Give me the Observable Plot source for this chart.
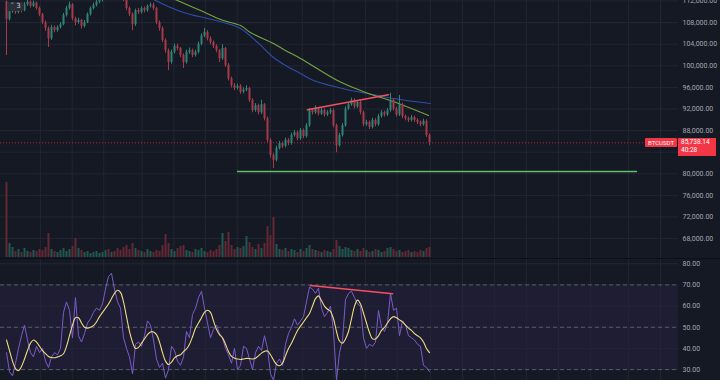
<!DOCTYPE html>
<html><head><meta charset="utf-8">
<script src="https://cdn.jsdelivr.net/npm/d3@7"></script>
<script src="https://cdn.jsdelivr.net/npm/@observablehq/plot@0.6"></script>
<style>
html,body{margin:0;padding:0;background:#151924;}
#wrap{position:relative;width:720px;height:380px;overflow:hidden;background:#151924;font-family:Roboto,"Liberation Sans",sans-serif;}
#wrap svg{display:block;overflow:hidden;}
.abs{position:absolute;}
</style></head><body><div id="wrap"></div>
<script>
// ---- data (prices in thousands of USDT, one candle per index) ----
const symbol = "BTCUSDT";
const countdown = "40:28";
const opens = [111.8,108.6,110.0,110.6,109.9,111.0,110.2,111.3,111.8,111.0, 111.6,110.6,109.5,108.0,106.9,105.0,107.1,106.5,107.1,107.6, 109.3,110.6,111.3,108.7,108.0,108.4,107.3,108.0,109.5,110.6, 111.2,111.8,112.1,112.8,113.5,113.2,114.0,113.6,113.0,112.8, 112.3,110.6,109.5,107.6,110.2,109.9,110.6,110.2,111.0,111.2, 110.6,108.0,106.9,104.7,102.8,100.6,102.5,103.6,103.2,101.9, 100.6,102.5,102.8,101.9,102.5,104.0,105.5,106.2,105.0,104.3, 103.6,102.8,101.3,103.2,100.1,97.6,96.3,95.8,96.2,95.1, 95.5,95.8,93.6,91.7,92.6,91.3,92.8,90.2,86.2,83.4, 82.5,84.7,85.6,85.1,86.2,85.6,87.1,87.6,86.5,88.0, 86.9,88.9,91.7,91.3,92.0,91.1,91.7,90.9,91.3,91.7, 88.9,85.2,87.1,88.9,92.0,92.8,93.6,92.4,93.2,91.3, 89.1,89.5,88.6,89.9,89.1,90.6,91.3,90.9,91.7,93.6, 92.0,90.9,92.8,90.6,90.2,89.9,90.4,89.9,89.5,89.1, 89.7,87.1];
const highs = [112.0,110.4,111.0,110.9,111.4,111.2,111.7,112.2,112.0,112.0, 111.8,110.9,109.7,108.3,107.2,107.5,107.4,107.4,108.0,109.7, 111.0,111.8,111.5,109.0,108.8,108.6,108.4,109.8,110.9,111.6, 112.2,112.6,113.2,113.9,113.8,114.4,114.3,113.9,113.3,113.1, 112.5,110.9,109.8,110.5,110.6,110.9,110.9,111.3,111.6,111.6, 110.8,108.3,107.2,105.0,103.1,102.9,104.0,104.0,103.4,102.2, 102.9,103.3,103.1,102.9,104.4,105.9,106.9,106.5,105.4,104.6, 103.9,103.0,103.9,103.4,100.4,97.9,96.7,96.6,96.5,95.9, 96.3,96.0,93.9,93.0,92.9,93.6,93.0,90.5,86.5,83.8, 85.1,86.0,85.9,86.6,86.5,87.5,88.0,87.9,88.4,88.3, 89.3,92.1,92.1,92.6,92.3,92.1,92.0,91.7,92.1,92.0, 89.2,87.5,89.3,92.4,93.2,94.0,93.9,93.6,93.5,91.6, 89.9,89.8,90.3,90.2,91.0,91.7,91.6,92.1,94.9,93.9, 92.3,94.5,93.1,90.9,90.5,90.8,90.7,90.2,89.8,90.1, 90.0,87.4];
const lows = [101.9,108.3,109.7,109.5,109.6,109.8,110.0,111.0,110.7,110.8, 110.3,109.1,107.6,106.4,103.4,104.7,106.1,106.2,106.8,107.4, 109.0,110.3,108.3,107.4,107.7,106.8,107.0,107.8,109.2,110.3, 110.9,111.5,111.8,112.5,112.9,112.9,113.2,112.6,112.4,111.9, 110.2,109.1,106.5,107.3,109.5,109.6,109.8,109.9,110.7,110.2, 107.6,106.4,104.3,102.3,99.1,100.3,102.2,102.8,101.5,99.5, 100.3,102.1,101.5,101.6,102.2,103.7,105.2,104.6,103.9,103.2, 102.4,100.6,101.0,99.7,97.2,95.9,95.4,95.5,94.7,94.8, 95.2,93.2,91.3,91.4,90.9,91.0,89.8,85.8,82.9,81.0, 82.2,84.4,84.7,84.8,85.2,85.3,86.8,86.1,86.2,86.5, 86.6,88.6,90.9,91.0,90.7,90.8,90.5,90.6,91.0,88.5, 83.9,84.9,86.8,88.6,91.7,92.5,92.0,92.1,90.9,88.7, 88.8,88.2,88.3,88.7,88.8,90.3,90.5,90.6,91.4,91.6, 90.5,90.6,90.2,89.8,89.5,89.6,89.5,89.1,88.7,88.8, 86.7,85.2];
const closes = [108.6,110.0,110.6,109.9,111.0,110.2,111.3,111.8,111.0,111.6, 110.6,109.5,108.0,106.9,105.0,107.1,106.5,107.1,107.6,109.3, 110.6,111.3,108.7,108.0,108.4,107.3,108.0,109.5,110.6,111.2, 111.8,112.1,112.8,113.5,113.2,114.0,113.6,113.0,112.8,112.3, 110.6,109.5,107.6,110.2,109.9,110.6,110.2,111.0,111.2,110.6, 108.0,106.9,104.7,102.8,100.6,102.5,103.6,103.2,101.9,100.6, 102.5,102.8,101.9,102.5,104.0,105.5,106.2,105.0,104.3,103.6, 102.8,101.3,103.2,100.1,97.6,96.3,95.8,96.2,95.1,95.5, 95.8,93.6,91.7,92.6,91.3,92.8,90.2,86.2,83.4,82.5, 84.7,85.6,85.1,86.2,85.6,87.1,87.6,86.5,88.0,86.9, 88.9,91.7,91.3,92.0,91.1,91.7,90.9,91.3,91.7,88.9, 85.2,87.1,88.9,92.0,92.8,93.6,92.4,93.2,91.3,89.1, 89.5,88.6,89.9,89.1,90.6,91.3,90.9,91.7,93.6,92.0, 90.9,92.8,90.6,90.2,89.9,90.4,89.9,89.5,89.1,89.7, 87.1,85.73814];
const volumes = [75,14,10,6,8,5,9,6,5,7, 6,8,7,10,24,8,6,5,7,9, 6,8,11,19,9,7,5,6,4,5, 6,4,5,7,8,5,6,9,7,10, 12,8,14,9,7,6,5,8,6,5, 7,6,12,23,14,8,6,9,11,12, 7,6,5,8,7,9,6,5,7,6, 8,12,24,16,25,12,8,10,9,11, 21,15,10,8,13,9,14,31,22,40, 13,8,7,9,6,8,7,5,8,6, 9,12,8,7,6,5,7,6,5,8, 17,11,8,10,9,7,6,8,6,9, 7,5,6,8,7,5,6,9,10,8, 6,7,5,6,7,5,6,5,7,6, 9,10];
const rsi = [38,29,27,33,40,46,51,44,38,36, 41,38,40,34,31,36,38,37,40,57, 62,58,45,64,46,43,47,52,54,57, 59,58,61,68,74,75.5,68,62,59,45, 40,36,28,42,43,41,46,53,51,44, 35,31,33,26,30,41,39,34,32,36, 48,45,56,59,64,67,59,52,45,49, 51,47,45,40,37,33,40,30,32,41, 40,35,30,38,41,39,46,40,28,25, 33,35,32,42,47,50,54,51,53,55, 62,69,68,66,68.5,59,55,57,60,48, 25,38,44,63,66,67,64,61,60,45, 40,42,41,43,58,50,48,52,66,58, 59,46,53,51,46,45,44,42,41,32, 31,29];
const rsiMa = [44,39,34,30.5,29.5,31.5,35,39,42.5,44, 43,41,39,37.5,36.2,35.7,35.6,36,36.5,37.5, 41,46,51,54.5,54.5,52,50,49.6,50,50.8, 52.5,55,57,59,61,63.5,66,67.5,66.5,62, 55,48,43,40,40.5,42.5,44.5,46.5,47.8,47.8, 46.5,43,38,34,32.4,33.5,35.5,36.5,37,38.5, 39.8,42,45.5,49.5,52,54.5,57,58,57,53, 49,46.5,45,42,38.5,36.2,35.4,35,34.8,35, 35.3,35.2,35,35.4,36.5,37.8,38.6,38.8,37,34.5, 32.5,31.8,33,36.5,40,42.5,45.5,48.5,50.5,52.5, 54.5,56.5,60,63.5,64.8,62.5,60,58.5,57.5,54, 48,43.5,42.5,44.5,48,54,60,62.8,61,56.6, 52,47.5,44.5,44.5,46,48.5,50,52,54,55, 54.5,53.5,52.5,51,49.6,48.5,47,46,45,43, 40,38];
// moving averages: [candle index, price]
const maBlue = [[48,112.65],[49.7,112.09],[59,109.87],[67,108.76],[72.3,108.02],[78,106.91],[83.7,104.32],[89,101.54],[93,100.06],[98,98.57],[102.3,97.28],[108,96.35],[114.7,95.43],[120.3,94.87],[129,93.94],[141.3,93.02]];
const maGreen = [[54.7,112.65],[57,112.09],[64.7,110.24],[72.3,108.39],[78,107.46],[81.3,106.17],[89,104.13],[93,102.83],[98,101.35],[110.3,97.28],[118,95.43],[124.7,94.13],[128,93.57],[140.7,90.80]];
// drawn lines
const priceTrend = [[100.3,91.85],[127.3,94.63]];
const support = [[77,80.43],[210,80.43]];
const rsiDiv = [[101.3,69.7],[128.7,65.8]];
// ticks (the 84,000 label is hidden behind the price tag in the original)
const priceTicks = [68,72,76,80,84,88,92,96,100,104,108,112];
const priceLabelTicks = [68,72,76,80,88,92,96,100,104,108,112];
const rsiTicks = [30,40,50,60,70,80];
const rsiLevels = {lower:30, middle:50, upper:70};
const gridX = [11.3,21.9,32.4,45.2,55.8,66.3,76.9,88,98.6,109.1,119.7,130.2,141.3,152,162.7,173.3,184,194.7,207.3,218];

// ---- styling ----
const GRID="#222633", UP="#2f8575", DN="#a93a4a", VUP="#22574f", VDN="#632835", RED="#f23645";
const font = "Roboto, 'Liberation Sans', sans-serif";
const style = {background:"transparent", color:"#a3a6af", fontSize:"7px", fontFamily:font};
const X = {domain:[-2,224], axis:null};
const bars = closes.map((c,i)=>({i, o:opens[i], h:highs[i], l:lows[i], c, v:volumes[i], up:c>=opens[i]}));
const lastClose = closes[closes.length-1];
const fmtPrice = d => d3.format(",.2f")(d*1000);

const wrap = document.getElementById("wrap");
function place(el, top){ el.classList.add("abs"); el.style.left="0px"; el.style.top=top+"px"; wrap.appendChild(el); return el; }

const pricePlot = Plot.plot({
  width:720, height:258, marginLeft:0, marginRight:42, marginTop:0, marginBottom:0,
  x:X, y:{domain:[64.31,112.09], axis:null}, style,
  marks:[
    Plot.ruleX(gridX,{stroke:GRID}),
    Plot.ruleY(priceTicks,{stroke:GRID}),
    Plot.line(maBlue,{x:d=>d[0], y:d=>d[1], stroke:"#2f4ea8", strokeWidth:1.1, curve:"catmull-rom", clip:true}),
    Plot.line(maGreen,{x:d=>d[0], y:d=>d[1], stroke:"#76a540", strokeWidth:1.1, curve:"catmull-rom", clip:true}),
    Plot.ruleY([lastClose],{stroke:RED, strokeOpacity:0.7, strokeDasharray:"1,2"}),
    Plot.ruleX(bars,{x:"i", y1:"l", y2:"h", stroke:d=>d.up?UP:DN, clip:true}),
    Plot.ruleX(bars,{x:"i", y1:"o", y2:"c", stroke:d=>d.up?UP:DN, strokeWidth:2, clip:true}),
    Plot.line(priceTrend,{x:d=>d[0], y:d=>d[1], stroke:"#f4505f", strokeWidth:1.5}),
    Plot.line(support,{x:d=>d[0], y:d=>d[1], stroke:"#5fbf66", strokeWidth:1.4}),
    Plot.axisY(priceLabelTicks,{anchor:"right", tickSize:0, tickPadding:4, tickFormat:fmtPrice, label:null})
  ]
});
place(pricePlot, 0);

const volPlot = Plot.plot({
  width:720, height:258, marginLeft:0, marginRight:42, marginTop:0, marginBottom:1,
  x:X, y:{domain:[0,257], axis:null}, style,
  marks:[ Plot.ruleX(bars,{x:"i", y1:0, y2:"v", stroke:d=>d.up?VUP:VDN, strokeWidth:2}) ]
});
place(volPlot, 0);

const sep = document.createElement("div");
sep.className="abs"; sep.style.cssText="left:0;top:258px;width:720px;height:1px;background:#0c0f16;";
wrap.appendChild(sep);

const rsiPlot = Plot.plot({
  width:720, height:121, marginLeft:0, marginRight:42, marginTop:0, marginBottom:0,
  x:X, y:{domain:[24.85,82.0], axis:null}, style,
  marks:[
    Plot.rect([rsiLevels],{y1:d=>d.lower, y2:d=>d.upper, fill:"#1f1d34"}),
    Plot.ruleX(gridX,{stroke:GRID}),
    Plot.ruleY(rsiTicks,{stroke:GRID}),
    Plot.ruleY([rsiLevels.lower, rsiLevels.middle, rsiLevels.upper],{stroke:"#787b86", strokeOpacity:0.65, strokeDasharray:"4,3"}),
    Plot.lineY(rsi,{x:(d,i)=>i, stroke:"#7a5cc8", strokeWidth:1}),
    Plot.lineY(rsiMa,{x:(d,i)=>i, stroke:"#eedc80", strokeWidth:1.1, curve:"catmull-rom"}),
    Plot.line(rsiDiv,{x:d=>d[0], y:d=>d[1], stroke:"#f4505f", strokeWidth:1.5}),
    Plot.axisY(rsiTicks,{anchor:"right", tickSize:0, tickPadding:4, tickFormat:".2f", label:null})
  ]
});
place(rsiPlot, 259);

// price labels on the right
const yl = pricePlot.scale("y").apply(lastClose);
const xr = pricePlot.scale("x").range[1];
const sym = document.createElement("div");
sym.className="abs";
sym.textContent = symbol;
sym.style.cssText = `left:${xr-33}px;top:${yl-4.5}px;width:32px;height:9px;line-height:9px;background:${RED};color:#fff;font-size:6px;text-align:center;border-radius:1px;`;
wrap.appendChild(sym);
const val = document.createElement("div");
val.className="abs";
val.innerHTML = `<div>${fmtPrice(lastClose)}</div><div>${countdown}</div>`;
val.style.cssText = `left:${xr}px;top:${yl-4.5}px;width:38px;height:18px;line-height:8.5px;background:${RED};color:#fff;font-size:6.5px;padding-left:3px;box-sizing:border-box;`;
wrap.appendChild(val);

// indicator badge
const badge = document.createElement("div");
badge.className="abs";
badge.textContent = "˅ 3";
badge.style.cssText = "left:7px;top:2px;width:17px;height:9px;line-height:9px;background:#2a2e39;color:#d1d4dc;font-size:7px;text-align:center;border-radius:2px;font-family:'DejaVu Sans',sans-serif;";
wrap.appendChild(badge);
</script></body></html>
